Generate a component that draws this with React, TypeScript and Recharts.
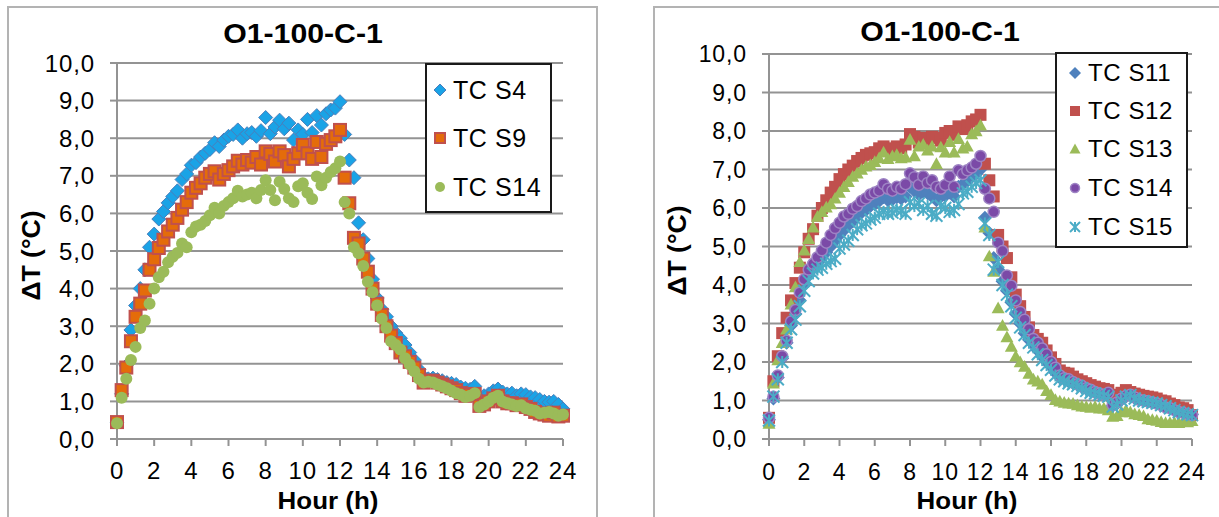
import React from "react";
import { ScatterChart, Scatter, XAxis, YAxis, CartesianGrid, Legend } from "recharts";

// time of each reading (h)
const HOURS = [
  0, 0.25, 0.5, 0.75, 1, 1.25, 1.5, 1.75,
  2, 2.25, 2.5, 2.75, 3, 3.25, 3.5, 3.75,
  4, 4.25, 4.5, 4.75, 5, 5.25, 5.5, 5.75,
  6, 6.25, 6.5, 6.75, 7, 7.25, 7.5, 7.75,
  8, 8.25, 8.5, 8.75, 9, 9.25, 9.5, 9.75,
  10, 10.25, 10.5, 10.75, 11, 11.25, 11.5, 11.75,
  12, 12.25, 12.5, 12.75, 13, 13.25, 13.5, 13.75,
  14, 14.25, 14.5, 14.75, 15, 15.25, 15.5, 15.75,
  16, 16.25, 16.5, 16.75, 17, 17.25, 17.5, 17.75,
  18, 18.25, 18.5, 18.75, 19, 19.25, 19.5, 19.75,
  20, 20.25, 20.5, 20.75, 21, 21.25, 21.5, 21.75,
  22, 22.25, 22.5, 22.75, 23, 23.25, 23.5, 23.75,
  24,
];

// left chart
const TC_S4 = [
  0.45, 1.2, 1.95, 2.9, 3.55, 4.0, 4.5, 5.1,
  5.45, 5.85, 6.05, 6.28, 6.45, 6.6, 6.9, 7.05,
  7.28, 7.35, 7.5, 7.6, 7.7, 7.88, 7.78, 7.95,
  8.05, 8.1, 8.22, 8.0, 8.12, 8.15, 8.05, 8.2,
  8.55, 8.12, 8.3, 8.48, 8.25, 8.4, 7.95, 8.22,
  8.1, 8.5, 8.15, 8.6, 8.35, 8.65, 8.75, 8.8,
  8.97, 8.1, 7.42, 6.95, 5.75, 5.3, 4.8, 4.25,
  3.75, 3.45, 3.25, 3.0, 2.82, 2.68, 2.5, 2.3,
  2.1, 1.85, 1.65, 1.6, 1.62, 1.58, 1.55, 1.5,
  1.48, 1.45, 1.38, 1.35, 1.32, 1.4, 1.1, 1.15,
  1.2, 1.28, 1.33, 1.25, 1.2, 1.22, 1.15, 1.2,
  1.18, 1.12, 1.1, 1.05, 1.0, 0.98, 1.0, 0.92,
  0.8,
];
const TC_S9 = [
  0.45, 1.3, 1.9, 2.6, 3.25, 3.6, 3.95, 4.5,
  4.78, 5.08, 5.3, 5.52, 5.7, 5.88, 6.1, 6.3,
  6.55, 6.68, 6.8, 6.95, 7.05, 7.12, 6.9, 7.05,
  7.15, 7.25, 7.4, 7.3, 7.42, 7.35, 7.5, 7.3,
  7.65, 7.58, 7.38, 7.65, 7.55, 7.25, 7.45, 7.6,
  7.82, 7.6, 7.45, 7.9, 7.5, 7.85, 7.95, 8.05,
  8.22, 6.95, 6.27, 5.35, 5.2, 4.8, 4.45, 4.0,
  3.6, 3.3, 3.0, 2.75, 2.55, 2.3, 2.2, 2.05,
  1.9, 1.7, 1.5, 1.55, 1.55, 1.5, 1.45, 1.4,
  1.35, 1.3, 1.22, 1.15, 1.18, 1.2, 0.88, 0.92,
  1.0, 1.08, 1.15, 1.0, 0.95, 0.95, 0.9, 0.92,
  0.85, 0.8, 0.72, 0.68, 0.65, 0.62, 0.7, 0.6,
  0.62,
];
const TC_S14_A = [
  0.42, 1.1, 1.6, 2.1, 2.45, 2.95, 3.15, 3.6,
  4.0, 4.3, 4.45, 4.7, 4.85, 4.95, 5.2, 5.1,
  5.5, 5.65, 5.7, 5.8, 5.95, 6.15, 6.0, 6.2,
  6.3, 6.4, 6.6, 6.45, 6.5, 6.55, 6.4, 6.62,
  6.88, 6.62, 6.35, 6.84, 6.65, 6.4, 6.3, 6.72,
  6.8, 6.55, 6.38, 6.98, 6.75, 6.95, 7.1, 7.2,
  7.38, 6.3, 6.0, 5.1, 4.94, 4.6, 4.18, 3.9,
  3.55, 3.2, 2.95, 2.6, 2.5, 2.38, 2.15, 1.98,
  1.8, 1.6, 1.5, 1.52, 1.5, 1.45, 1.4, 1.35,
  1.28, 1.22, 1.18, 1.12, 1.15, 1.22, 0.85, 0.92,
  1.0, 1.1, 1.15, 1.0, 0.95, 0.92, 0.88, 0.9,
  0.82, 0.78, 0.75, 0.68, 0.7, 0.72, 0.68, 0.62,
  0.65,
];

// right chart
const TC_S11 = [
  0.5, 1.05, 1.6, 2.1, 2.5, 2.95, 3.25, 3.6,
  4.0, 4.25, 4.42, 4.58, 4.7, 4.85, 5.0, 5.15,
  5.3, 5.42, 5.55, 5.65, 5.78, 5.88, 5.95, 6.05,
  6.1, 6.18, 6.28, 6.2, 6.22, 6.28, 6.25, 6.3,
  6.55, 6.45, 6.35, 6.42, 6.38, 6.3, 6.2, 6.3,
  6.32, 6.4, 6.3, 6.55, 6.62, 6.7, 6.8, 6.88,
  7.0, 5.75, 5.35, 4.7, 4.4, 4.1, 3.85, 3.55,
  3.25, 3.0, 2.75, 2.58, 2.45, 2.3, 2.14, 2.0,
  1.88, 1.72, 1.6, 1.55, 1.5, 1.45, 1.4, 1.35,
  1.3, 1.25, 1.2, 1.17, 1.14, 1.15, 0.86, 0.92,
  1.02, 1.1, 1.14, 1.06, 1.02, 1.0, 0.97, 0.95,
  0.92, 0.88, 0.84, 0.8, 0.76, 0.72, 0.7, 0.66,
  0.64,
];
const TC_S12 = [
  0.55, 1.5, 2.15, 2.75, 3.15, 3.6, 4.05, 4.45,
  4.85, 5.2, 5.45, 5.8, 6.0, 6.2, 6.4, 6.55,
  6.75, 6.88, 7.0, 7.1, 7.22, 7.3, 7.38, 7.42,
  7.45, 7.55, 7.6, 7.5, 7.55, 7.6, 7.55, 7.65,
  7.92, 7.85, 7.7, 7.82, 7.75, 7.85, 7.82, 7.75,
  7.95, 8.0, 7.9, 8.12, 8.05, 8.15, 8.25, 8.3,
  8.42, 7.15, 6.72, 6.3, 5.3, 5.0, 4.7, 4.2,
  3.75, 3.45, 3.17, 2.9, 2.7, 2.6, 2.5, 2.3,
  2.12, 1.95, 1.78, 1.72, 1.7, 1.62, 1.55, 1.5,
  1.45, 1.4, 1.36, 1.32, 1.3, 1.27, 1.1, 1.15,
  1.2, 1.27, 1.22, 1.18, 1.15, 1.12, 1.1, 1.08,
  1.05, 1.0, 0.98, 0.92, 0.88, 0.82, 0.8, 0.75,
  0.62,
];
const TC_S13 = [
  0.4, 1.45, 2.05, 2.5, 2.85, 3.5, 3.95, 4.6,
  4.9, 5.2, 5.5, 5.78, 5.9, 6.02, 6.1, 6.25,
  6.4, 6.55, 6.68, 6.82, 6.9, 7.0, 7.08, 7.12,
  7.2, 7.3, 7.45, 7.28, 7.35, 7.38, 7.3, 7.32,
  7.78, 7.35, 7.6, 7.65, 7.5, 7.6, 7.15, 7.58,
  7.45, 7.72, 7.45, 7.8, 7.55, 7.6, 7.92, 8.0,
  8.15, 5.5, 4.75, 4.35, 3.4, 2.95, 2.65, 2.4,
  2.15, 2.0, 1.88, 1.7, 1.55, 1.5, 1.42, 1.25,
  1.15, 1.02, 0.98, 0.95, 0.93, 0.92, 0.88, 0.85,
  0.84, 0.82, 0.84, 0.8, 0.8, 0.75, 0.58, 0.6,
  0.7, 0.75, 0.7, 0.65, 0.63, 0.6, 0.52, 0.5,
  0.48, 0.45, 0.42, 0.42, 0.43, 0.42, 0.45, 0.44,
  0.47,
];
const TC_S14_B = [
  0.55, 1.1, 1.65, 2.15, 2.55, 3.05, 3.35, 3.8,
  4.15, 4.4, 4.55, 4.72, 4.9, 5.1, 5.3, 5.48,
  5.62, 5.78, 5.85, 5.98, 6.05, 6.18, 6.25, 6.35,
  6.4, 6.45, 6.62, 6.5, 6.45, 6.55, 6.5, 6.62,
  6.9, 6.8, 6.6, 6.82, 6.65, 6.72, 6.55, 6.5,
  6.6, 6.82, 6.55, 6.98, 6.88, 6.98, 7.05, 7.15,
  7.35, 6.5, 6.25, 5.9, 5.1, 4.88, 4.25, 3.98,
  3.6, 3.3, 3.1, 2.85, 2.6, 2.5, 2.35, 2.2,
  2.0, 1.85, 1.65, 1.58, 1.55, 1.48, 1.42, 1.38,
  1.32, 1.28, 1.22, 1.18, 1.15, 1.2, 0.88, 0.95,
  1.05, 1.12, 1.15, 1.08, 1.02, 1.0, 0.98, 0.95,
  0.92, 0.88, 0.82, 0.8, 0.75, 0.7, 0.68, 0.65,
  0.62,
];
const TC_S15 = [
  0.48, 1.1, 1.55, 2.0, 2.5, 2.85, 3.1, 3.45,
  3.85, 4.1, 4.3, 4.4, 4.45, 4.55, 4.62, 4.68,
  4.95, 5.05, 5.15, 5.3, 5.45, 5.55, 5.6, 5.7,
  5.75, 5.85, 5.9, 5.85, 5.88, 5.95, 5.92, 5.85,
  6.15, 6.05, 6.12, 5.95, 6.05, 5.85, 5.8, 6.05,
  6.0, 5.9, 5.95, 6.1, 6.38, 6.42, 6.55, 6.65,
  6.72, 5.6, 5.3, 4.4, 4.6, 4.0, 3.75, 3.45,
  3.15, 2.9, 2.7, 2.5, 2.38, 2.2, 2.05, 1.92,
  1.8, 1.65, 1.55, 1.5, 1.45, 1.42, 1.38, 1.32,
  1.25, 1.2, 1.18, 1.15, 1.12, 1.1, 0.84, 0.9,
  1.0, 1.1, 1.14, 1.05, 1.0, 0.98, 0.96, 0.94,
  0.92, 0.88, 0.85, 0.8, 0.75, 0.7, 0.67, 0.64,
  0.62,
];

const X_TICKS = [0, 2, 4, 6, 8, 10, 12, 14, 16, 18, 20, 22, 24];
const Y_TICKS = [0, 1, 2, 3, 4, 5, 6, 7, 8, 9, 10];

const FONT = "'Liberation Sans', Arial, sans-serif";
const GRID = "#939393";

type Kind = "diamond" | "square" | "circle" | "triangle" | "star";

interface SeriesDef {
  name: string;
  values: number[];
  kind: Kind;
  fill: string;
  stroke?: string;
  strokeWidth?: number;
  r: number;
}

const LEFT_SERIES: SeriesDef[] = [
  { name: "TC S4", values: TC_S4, kind: "diamond", fill: "#1aa3e6", stroke: "#4a7ebb", strokeWidth: 1, r: 7 },
  { name: "TC S9", values: TC_S9, kind: "square", fill: "#e46c0a", stroke: "#c0504d", strokeWidth: 2, r: 6 },
  { name: "TC S14", values: TC_S14_A, kind: "circle", fill: "#9bbb59", r: 6 },
];

const RIGHT_SERIES: SeriesDef[] = [
  { name: "TC S11", values: TC_S11, kind: "diamond", fill: "#4f81bd", r: 7 },
  { name: "TC S12", values: TC_S12, kind: "square", fill: "#c0504d", r: 6 },
  { name: "TC S13", values: TC_S13, kind: "triangle", fill: "#9bbb59", r: 6.5 },
  { name: "TC S14", values: TC_S14_B, kind: "circle", fill: "#7b4aa7", stroke: "#9e84c4", strokeWidth: 1.5, r: 5.5 },
  { name: "TC S15", values: TC_S15, kind: "star", fill: "#4bacc6", strokeWidth: 2, r: 6 },
];

const fmt = (v: number) => v.toFixed(1).replace(".", ",");

function Marker({ cx, cy, s }: { cx: number; cy: number; s: SeriesDef }) {
  const r = s.r;
  if (cx == null || cy == null) return null;
  switch (s.kind) {
    case "diamond":
      return (
        <polygon
          points={`${cx},${cy - r} ${cx + r},${cy} ${cx},${cy + r} ${cx - r},${cy}`}
          fill={s.fill}
          stroke={s.stroke || "none"}
          strokeWidth={s.strokeWidth || 0}
        />
      );
    case "square":
      return (
        <rect
          x={cx - r}
          y={cy - r}
          width={r * 2}
          height={r * 2}
          fill={s.fill}
          stroke={s.stroke || "none"}
          strokeWidth={s.strokeWidth || 0}
        />
      );
    case "triangle":
      return (
        <polygon
          points={`${cx},${cy - r} ${cx + r},${cy + r * 0.8} ${cx - r},${cy + r * 0.8}`}
          fill={s.fill}
        />
      );
    case "star":
      return (
        <g stroke={s.fill} strokeWidth={s.strokeWidth || 2}>
          <line x1={cx - r} y1={cy - r} x2={cx + r} y2={cy + r} />
          <line x1={cx - r} y1={cy + r} x2={cx + r} y2={cy - r} />
          <line x1={cx} y1={cy - r} x2={cx} y2={cy + r} />
        </g>
      );
    default:
      return (
        <circle cx={cx} cy={cy} r={r} fill={s.fill} stroke={s.stroke || "none"} strokeWidth={s.strokeWidth || 0} />
      );
  }
}

interface LegendCfg {
  left: number;
  top: number;
  width: number;
  height: number;
  rows: number[]; // centre of each row, from box top
  markerX: number;
  textX: number;
  fontSize: number;
}

function LegendBox({ series, cfg }: { series: SeriesDef[]; cfg: LegendCfg }) {
  return (
    <div
      style={{
        position: "relative",
        width: cfg.width,
        height: cfg.height,
        boxSizing: "border-box",
        border: "2px solid #1a1a1a",
        background: "#fff",
        fontFamily: FONT,
      }}
    >
      {series.map((s, i) => (
        <div key={s.name} style={{ position: "absolute", left: 0, top: cfg.rows[i] - 2 - 15, height: 30, width: "100%" }}>
          <svg width={20} height={30} style={{ position: "absolute", left: cfg.markerX - 2 - 10, top: 0 }}>
            <Marker cx={10} cy={15} s={{ ...s, r: s.r - 1 }} />
          </svg>
          <span
            style={{
              position: "absolute",
              left: cfg.textX - 2,
              top: 0,
              lineHeight: "30px",
              fontSize: cfg.fontSize,
              letterSpacing: 0.6,
              color: "#000",
              whiteSpace: "nowrap",
            }}
          >
            {s.name}
          </span>
        </div>
      ))}
    </div>
  );
}

interface PanelProps {
  series: SeriesDef[];
  width: number;
  height: number;
  margin: { top: number; right: number; bottom: number; left: number };
  yAxisWidth: number;
  tickFont: number;
  yTickMargin: number;
  xTickMargin: number;
  legend: LegendCfg;
}

function Panel({ series, width, height, margin, yAxisWidth, tickFont, yTickMargin, xTickMargin, legend }: PanelProps) {
  const axisStyle = { stroke: GRID, strokeWidth: 2 };
  const tickStyle = { fill: "#000", fontSize: tickFont, letterSpacing: 0.9 };
  return (
    <ScatterChart width={width} height={height} margin={margin}>
      <CartesianGrid vertical={false} stroke={GRID} strokeWidth={2} />
      <XAxis
        type="number"
        dataKey="h"
        domain={[0, 24]}
        ticks={X_TICKS}
        interval={0}
        height={78}
        tickSize={7}
        tickMargin={xTickMargin}
        axisLine={axisStyle}
        tickLine={axisStyle}
        tick={tickStyle}
      />
      <YAxis
        type="number"
        dataKey="v"
        domain={[0, 10]}
        ticks={Y_TICKS}
        interval={0}
        width={yAxisWidth}
        tickSize={7}
        tickMargin={yTickMargin}
        tickFormatter={fmt}
        axisLine={axisStyle}
        tickLine={axisStyle}
        tick={tickStyle}
      />
      {series.map((s) => (
        <Scatter
          key={s.name}
          name={s.name}
          data={HOURS.map((h, i) => ({ h, v: s.values[i] }))}
          isAnimationActive={false}
          shape={(p: any) => <Marker cx={p.cx} cy={p.cy} s={s} />}
        />
      ))}
      <Legend
        layout="horizontal"
        verticalAlign="middle"
        align="center"
        width={legend.width}
        height={legend.height}
        wrapperStyle={{ left: legend.left, top: legend.top, width: legend.width, height: legend.height }}
        content={() => <LegendBox series={series} cfg={legend} />}
      />
    </ScatterChart>
  );
}

const titleStyle = (cx: number, top: number, size: number): React.CSSProperties => ({
  position: "absolute",
  left: cx - 200,
  top,
  width: 400,
  textAlign: "center",
  fontSize: size,
  lineHeight: `${size}px`,
  fontWeight: 700,
  color: "#000",
  whiteSpace: "nowrap",
  transform: "scaleX(1.08)",
});

const yTitleStyle = (cx: number, cy: number, size: number): React.CSSProperties => ({
  position: "absolute",
  left: cx - 100,
  top: cy - size / 2,
  width: 200,
  height: size,
  textAlign: "center",
  fontSize: size,
  lineHeight: `${size}px`,
  fontWeight: 700,
  color: "#000",
  transform: "rotate(-90deg) scaleX(1.06)",
  whiteSpace: "nowrap",
});

export default function App() {
  return (
    <div
      style={{
        position: "absolute",
        left: 0,
        top: 0,
        width: 1219,
        height: 517,
        background: "#fff",
        overflow: "hidden",
        fontFamily: FONT,
      }}
    >
      {/* chart frames */}
      <div style={{ position: "absolute", left: 7, top: 6, width: 587, height: 560, border: "2px solid #b3b3b3" }} />
      <div style={{ position: "absolute", left: 653, top: 6, width: 700, height: 560, border: "2px solid #b3b3b3" }} />

      <div style={{ position: "absolute", left: 0, top: 0 }}>
        <Panel
          series={LEFT_SERIES}
          width={600}
          height={517}
          margin={{ top: 63, right: 37, bottom: 0, left: 0 }}
          yAxisWidth={117}
          tickFont={24}
          yTickMargin={15}
          xTickMargin={16}
          legend={{ left: 425, top: 63, width: 127, height: 150, rows: [27, 75, 124], markerX: 15, textX: 28, fontSize: 25 }}
        />
      </div>
      <div style={{ position: "absolute", left: 610, top: 0 }}>
        <Panel
          series={RIGHT_SERIES}
          width={609}
          height={517}
          margin={{ top: 54, right: 27, bottom: 0, left: 0 }}
          yAxisWidth={159}
          tickFont={23}
          yTickMargin={15}
          xTickMargin={18}
          legend={{ left: 445, top: 52, width: 133, height: 196, rows: [21, 59, 97, 136, 175], markerX: 20, textX: 33, fontSize: 24 }}
        />
      </div>

      <div style={titleStyle(303, 20, 28)}>O1-100-C-1</div>
      <div style={titleStyle(940, 18, 28)}>O1-100-C-1</div>
      <div style={titleStyle(328, 489, 24)}>Hour (h)</div>
      <div style={titleStyle(967, 489, 24)}>Hour (h)</div>
      <div style={yTitleStyle(31, 255, 25)}>ΔT (°C)</div>
      <div style={yTitleStyle(677, 250, 25)}>ΔT (°C)</div>
    </div>
  );
}
